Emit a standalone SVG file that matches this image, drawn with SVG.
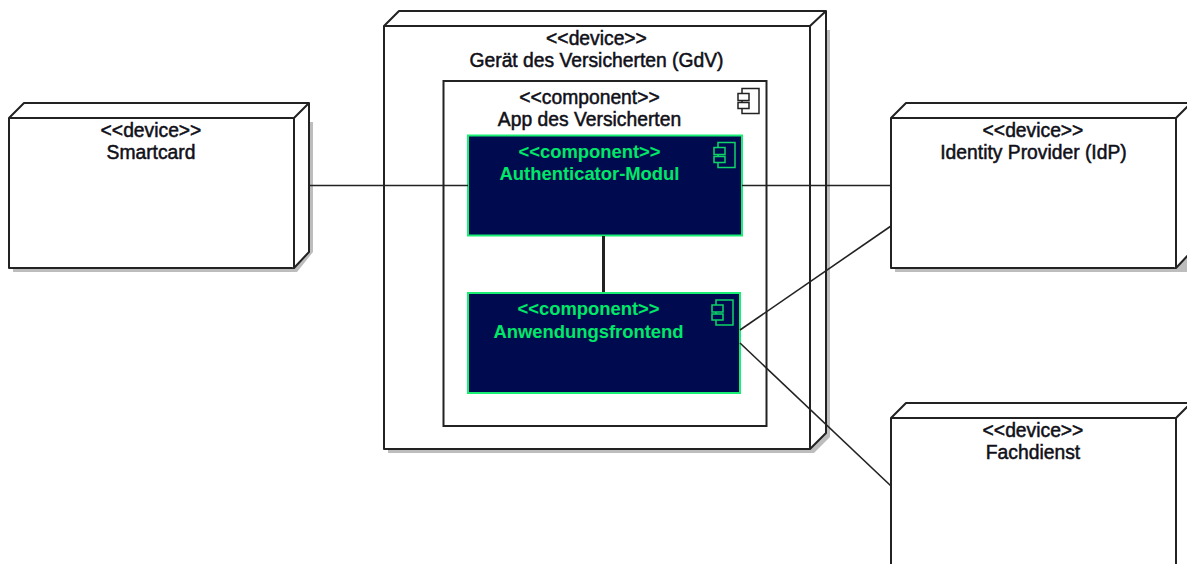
<svg xmlns="http://www.w3.org/2000/svg" width="1187" height="564" viewBox="0 0 1187 564">
<style>
text{font-family:"Liberation Sans",Arial,sans-serif;font-size:19.300px;text-anchor:middle;fill:#101018;stroke:#101018;stroke-width:.5}
.g text{fill:#00e868;stroke:none;font-weight:bold;font-size:18.400px}
.f{fill:#fff;stroke:#222;stroke-width:2;stroke-linejoin:round}
.s{fill:#bdbdbd;stroke:none}
.c{fill:#000b4f;stroke:#19ef72;stroke-width:2}
.k{fill:#fff;stroke:#222;stroke-width:1.500}
.h{fill:#000b4f;stroke:#0fd468;stroke-width:1.500}
.l{fill:none;stroke:#222;stroke-width:1.600}
</style>
<defs>
<symbol id="ic" overflow="visible"><path d="M4 0H21V25H4Z"/><path d="M0 5H11V12H0ZM0 14H11V20H0Z"/></symbol>
</defs>
<g id="device-gdv">
<path class="s" d="M388 30H830V437L814 453H388Z"/>
<path class="f" d="M384 26L399 11H826V433L810 449H384Z"/>
<path class="f" d="M384 26H810V449M810 26L826 11"/>
<text x="596.500" y="45">&lt;&lt;device&gt;&gt;</text>
<text x="596.500" y="66.500">Gerät des Versicherten (GdV)</text>
</g>
<g id="component-app">
<rect x="443.500" y="81" width="323" height="345" fill="#fff" stroke="#222" stroke-width="2"/>
<text x="589.500" y="104">&lt;&lt;component&gt;&gt;</text>
<text x="589.500" y="125.500">App des Versicherten</text>
<use class="k" href="#ic" x="738" y="88.500"/>
</g>
<g id="authenticator-modul" class="g">
<rect class="c" x="468" y="135.500" width="274" height="100"/>
<text x="589.500" y="158">&lt;&lt;component&gt;&gt;</text>
<text x="589.500" y="179.500">Authenticator-Modul</text>
<use class="h" href="#ic" x="714" y="142.500"/>
</g>
<g id="anwendungsfrontend" class="g">
<rect class="c" x="468" y="293" width="272" height="100"/>
<text x="588.500" y="315">&lt;&lt;component&gt;&gt;</text>
<text x="588.500" y="337.500">Anwendungsfrontend</text>
<use class="h" href="#ic" x="712" y="300"/>
</g>
<g id="smartcard">
<path class="s" d="M13 122H313V252L297 272H13Z"/>
<path class="f" d="M9 118L24 103H309V252L294 268H9Z"/>
<path class="f" d="M9 118H294V268M294 118L309 103"/>
<text x="151" y="137">&lt;&lt;device&gt;&gt;</text>
<text x="151" y="158.500">Smartcard</text>
</g>
<g id="identity-provider">
<path class="s" d="M895 122H1187V272H895Z"/>
<path class="f" d="M891 118L906 103H1191V252L1176 268H891Z"/>
<path class="f" d="M891 118H1176V268M1176 118L1191 103"/>
<text x="1033" y="137">&lt;&lt;device&gt;&gt;</text>
<text x="1033.500" y="158.500">Identity Provider (IdP)</text>
</g>
<g id="fachdienst">
<path class="f" d="M891 418L906 403H1191V580H891Z"/>
<path class="f" d="M891 418H1176V580M1176 418L1191 403"/>
<text x="1033" y="437">&lt;&lt;device&gt;&gt;</text>
<text x="1033" y="458.500">Fachdienst</text>
</g>
<g id="connectors">
<path class="l" d="M309 185.500H468"/>
<path class="l" d="M742 185.500H891"/>
<path class="l" style="stroke-width:3" d="M603.500 236V292"/>
<path class="l" d="M740 330L891 226"/>
<path class="l" d="M740 343L891 486"/>
</g>
</svg>
